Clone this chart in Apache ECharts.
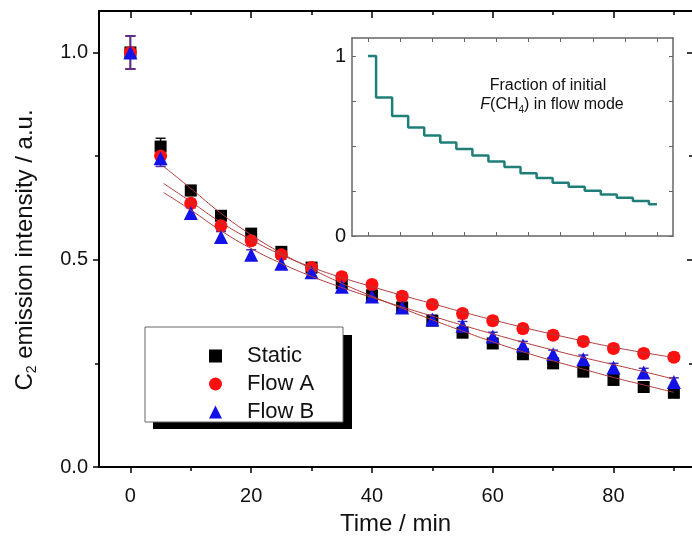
<!DOCTYPE html>
<html><head><meta charset="utf-8">
<script src="https://cdn.jsdelivr.net/npm/echarts@6/dist/echarts.min.js"></script>
<style>html,body{margin:0;padding:0;background:#fff}#c{width:692px;height:544px}</style>
</head><body><div id="c"></div>
<script>
// ---- data ----
const times = [0,5,10,15,20,25,30,35,40,45,50,55,60,65,70,75,80,85,90];
const staticVals = [1.0,0.773,0.667,0.606,0.563,0.519,0.481,0.443,0.414,0.385,0.353,0.324,0.298,0.272,0.250,0.230,0.210,0.193,0.179];
const flowAVals  = [1.0,0.750,0.636,0.582,0.546,0.512,0.481,0.459,0.440,0.412,0.392,0.370,0.353,0.334,0.318,0.303,0.286,0.274,0.265];
const flowBVals  = [1.0,0.745,0.613,0.555,0.512,0.490,0.470,0.435,0.411,0.385,0.356,0.341,0.315,0.293,0.272,0.260,0.240,0.228,0.205];
const staticErr  = [0.04,0.02,0.012,0.012,0.01,0.01,0.01,0.01,0.01,0.01,0.01,0.01,0.01,0.01,0.01,0.01,0.01,0.01,0.01];
const flowAErr   = [0.04,0.02,0.01,0.01,0.01,0.01,0.01,0.01,0.01,0.01,0.01,0.01,0.01,0.01,0.01,0.01,0.01,0.01,0.01];
const flowBErr   = [0.04,0.02,0.013,0.013,0.012,0.012,0.01,0.01,0.01,0.01,0.01,0.01,0.01,0.01,0.01,0.01,0.01,0.01,0.01];
const fitTimes   = [5.5,10,15,20,25,30,35,40,45,50,55,60,65,70,75,80,85,90];
const staticFit  = [0.725,0.672,0.612,0.560,0.516,0.478,0.443,0.412,0.383,0.355,0.328,0.302,0.278,0.256,0.236,0.216,0.198,0.180];
const flowAFit   = [0.684,0.640,0.590,0.548,0.512,0.482,0.457,0.435,0.414,0.394,0.374,0.355,0.337,0.320,0.304,0.289,0.276,0.264];
const flowBFit   = [0.662,0.620,0.570,0.527,0.491,0.460,0.433,0.409,0.386,0.364,0.342,0.321,0.301,0.282,0.264,0.247,0.230,0.212];
const insetTimes = [0,5,10,15,20,25,30,35,40,45,50,55,60,65,70,75,80,85,90];
const insetVals  = [1.0,0.769,0.666,0.603,0.558,0.520,0.484,0.447,0.414,0.383,0.348,0.322,0.296,0.273,0.251,0.231,0.213,0.194,0.177];
const xMajor = [0,20,40,60,80];
const xMinor = [10,30,50,70,90];
const yMajor = [0,0.5,1.0];
const yMinor = [0.25,0.75];
const insetXTicks = [0,10,20,30,40,50,60,70,80,90];
const insetYTicks = [0,0.25,0.5,0.75,1];
const insetYLabels = [0,1];

const FONT = 'Liberation Sans, Arial, sans-serif';
const chart = echarts.init(document.getElementById('c'), null, {renderer:'canvas'});

function errRender(color){
  return function(params, api){
    const x = api.value(0), y = api.value(1), e = api.value(2);
    const t = api.coord([x, y+e]), b = api.coord([x, y-e]);
    const w = 5, st = {stroke:color, lineWidth:1.5};
    return {type:'group', children:[
      {type:'line', shape:{x1:t[0],y1:t[1],x2:b[0],y2:b[1]}, style:st},
      {type:'line', shape:{x1:t[0]-w,y1:t[1],x2:t[0]+w,y2:t[1]}, style:st},
      {type:'line', shape:{x1:b[0]-w,y1:b[1],x2:b[0]+w,y2:b[1]}, style:st}
    ]};
  };
}
const zip = (a,b,c)=>a.map((v,i)=>c?[v,b[i],c[i]]:[v,b[i]]);

const mainX = {gridIndex:0, type:'value', min:-5.2, max:93, splitLine:{show:false}};
const mainY = {gridIndex:0, type:'value', min:0, max:1.1, splitLine:{show:false}};
const blackLine = {show:true, onZero:false, lineStyle:{color:'#000', width:2}};
const noLine = {show:false, onZero:false};
const grayLine = {show:true, onZero:false, lineStyle:{color:'#666', width:1.5}};

const option = {
  animation:false,
  textStyle:{fontFamily:FONT},
  grid:[
    {left:99, right:0, top:11, bottom:77, outerBoundsMode:'none'},
    {left:352, right:19, top:38, height:198, show:true, backgroundColor:'#fff', borderWidth:0, outerBoundsMode:'none'}
  ],
  xAxis:[
    Object.assign({}, mainX, {position:'bottom', axisLine:blackLine,
      axisTick:{customValues:xMajor, length:6, lineStyle:{color:'#000', width:1.5}},
      axisLabel:{customValues:xMajor, fontSize:20, color:'#111', margin:19},
      name:'Time / min', nameLocation:'middle', nameGap:45,
      nameTextStyle:{fontSize:24, color:'#111', fontFamily:FONT}}),
    Object.assign({}, mainX, {position:'bottom', axisLine:noLine,
      axisTick:{customValues:xMinor, length:4, lineStyle:{color:'#000', width:1.5}},
      axisLabel:{show:false}}),
    Object.assign({}, mainX, {position:'top', axisLine:blackLine,
      axisTick:{customValues:xMajor, inside:true, length:7, lineStyle:{color:'#000', width:1.5}},
      axisLabel:{show:false}}),
    Object.assign({}, mainX, {position:'top', axisLine:noLine,
      axisTick:{customValues:xMinor, inside:true, length:4, lineStyle:{color:'#000', width:1.5}},
      axisLabel:{show:false}}),
    {gridIndex:1, type:'value', min:-5, max:95, position:'bottom', splitLine:{show:false},
      axisLine:grayLine,
      axisTick:{customValues:insetXTicks, inside:true, length:4, lineStyle:{color:'#666'}},
      axisLabel:{show:false}},
    {gridIndex:1, type:'value', min:-5, max:95, position:'top', splitLine:{show:false},
      axisLine:grayLine,
      axisTick:{customValues:insetXTicks, inside:true, length:4, lineStyle:{color:'#666'}},
      axisLabel:{show:false}}
  ],
  yAxis:[
    Object.assign({}, mainY, {position:'left', axisLine:blackLine,
      axisTick:{customValues:yMajor, length:6, lineStyle:{color:'#000', width:1.5}},
      axisLabel:{customValues:yMajor, fontSize:20, color:'#111', margin:11, formatter:v=>v.toFixed(1)}}),
    Object.assign({}, mainY, {position:'left', axisLine:noLine,
      axisTick:{customValues:yMinor, length:4, lineStyle:{color:'#000', width:1.5}},
      axisLabel:{show:false}}),
    Object.assign({}, mainY, {position:'right', axisLine:noLine,
      axisTick:{customValues:yMajor, inside:true, length:5, lineStyle:{color:'#000', width:1.5}},
      axisLabel:{show:false}}),
    Object.assign({}, mainY, {position:'right', axisLine:noLine,
      axisTick:{customValues:yMinor, inside:true, length:3, lineStyle:{color:'#000', width:1.5}},
      axisLabel:{show:false}}),
    {gridIndex:1, type:'value', min:0, max:1.1, position:'left', splitLine:{show:false},
      axisLine:grayLine,
      axisTick:{customValues:insetYTicks, inside:true, length:4, lineStyle:{color:'#666'}},
      axisLabel:{customValues:insetYLabels, fontSize:20, color:'#111', margin:6, formatter:v=>String(v)}},
    {gridIndex:1, type:'value', min:0, max:1.1, position:'right', splitLine:{show:false},
      axisLine:grayLine,
      axisTick:{customValues:insetYTicks, inside:true, length:4, lineStyle:{color:'#666'}},
      axisLabel:{show:false}}
  ],
  legend:{
    orient:'vertical', left:204, top:340, itemWidth:13, itemHeight:13, itemGap:6, z:10,
    textStyle:{fontSize:22, color:'#111', lineHeight:22, padding:[0,0,0,20], fontFamily:FONT},
    data:[{name:'Static', icon:'rect'},{name:'Flow A', icon:'circle'},{name:'Flow B', icon:'triangle'}]
  },
  graphic:[
    {type:'rect', z:8, shape:{x:153, y:335, width:199, height:94}, style:{fill:'#000'}},
    {type:'rect', z:9, shape:{x:145, y:327, width:198, height:95}, style:{fill:'#fff', stroke:'#666', lineWidth:1}},
    {type:'text', z:9, x:25, y:250, rotation:Math.PI/2,
      style:{text:'C{sub|2} emission intensity / a.u.', fontSize:24, fontFamily:FONT, fill:'#111',
        align:'center', verticalAlign:'middle', lineHeight:28,
        rich:{sub:{fontSize:14, fontFamily:FONT, fill:'#111', lineHeight:14, verticalAlign:'bottom'}}}},
    {type:'text', z:9, x:548, y:86,
      style:{text:'Fraction of initial', fontSize:16, fontFamily:FONT, fill:'#111', align:'center', verticalAlign:'middle'}},
    {type:'text', z:9, x:552, y:105,
      style:{text:'{i|F}(CH{sub|4}) in flow mode', fontSize:16, fontFamily:FONT, fill:'#111', align:'center', verticalAlign:'middle', lineHeight:20,
        rich:{i:{fontStyle:'italic', fontSize:16, fontFamily:FONT, fill:'#111'},
              sub:{fontSize:10, fontFamily:FONT, fill:'#111', lineHeight:10, verticalAlign:'bottom'}}}}
  ],
  series:[
    {type:'custom', name:'errS', xAxisIndex:0, yAxisIndex:0, z:2, renderItem:errRender('#111'), data:zip(times, staticVals, staticErr)},
    {type:'scatter', name:'Static', xAxisIndex:0, yAxisIndex:0, z:2, symbol:'rect', symbolSize:12, itemStyle:{color:'#000', opacity:1}, data:zip(times, staticVals)},
    {type:'custom', name:'errA', xAxisIndex:0, yAxisIndex:0, z:2, renderItem:errRender('#e01818'), data:zip(times, flowAVals, flowAErr)},
    {type:'scatter', name:'Flow A', xAxisIndex:0, yAxisIndex:0, z:2, symbol:'circle', symbolSize:13, itemStyle:{color:'#ff1010', opacity:1}, data:zip(times, flowAVals)},
    {type:'custom', name:'errB', xAxisIndex:0, yAxisIndex:0, z:2, renderItem:errRender('#4830a8'), data:zip(times, flowBVals, flowBErr)},
    {type:'scatter', name:'Flow B', xAxisIndex:0, yAxisIndex:0, z:2, symbol:'triangle', symbolSize:14, itemStyle:{color:'#1212e8', opacity:1}, data:zip(times, flowBVals)},
    {type:'line', name:'fitS', xAxisIndex:0, yAxisIndex:0, z:3, smooth:true, showSymbol:false, symbol:'none', lineStyle:{color:'#b03a3a', width:1}, data:zip(fitTimes, staticFit)},
    {type:'line', name:'fitA', xAxisIndex:0, yAxisIndex:0, z:3, smooth:true, showSymbol:false, symbol:'none', lineStyle:{color:'#b03a3a', width:1}, data:zip(fitTimes, flowAFit)},
    {type:'line', name:'fitB', xAxisIndex:0, yAxisIndex:0, z:3, smooth:true, showSymbol:false, symbol:'none', lineStyle:{color:'#b03a3a', width:1}, data:zip(fitTimes, flowBFit)},
    {type:'line', name:'inset', xAxisIndex:4, yAxisIndex:4, step:'middle', showSymbol:false, symbol:'none', lineStyle:{color:'#1f7f78', width:2.5}, data:zip(insetTimes, insetVals)}
  ]
};
chart.setOption(option);
</script>
</body></html>
